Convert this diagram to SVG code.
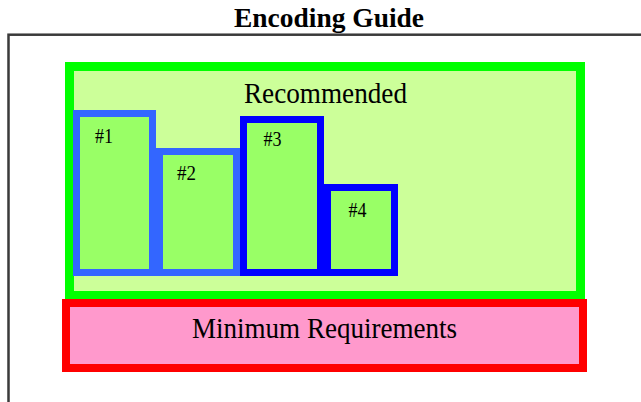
<svg xmlns="http://www.w3.org/2000/svg" width="641" height="402" viewBox="0 0 641 402">
  <style>
    text { font-family: "Liberation Serif", "Times New Roman", serif; fill: #000; }
    .big { font-size: 30px; text-anchor: middle; }
    .num { font-size: 20px; }
    .lb { fill: #99FF66; stroke: #3366FF; stroke-width: 7; }
    .db { fill: #99FF66; stroke: #0000FF; stroke-width: 7; }
  </style>
  <rect width="641" height="402" fill="#ffffff"/>
  <g id="title">
    <text x="329" y="27" font-family="Liberation Serif, serif" font-size="28" font-weight="bold" text-anchor="middle" textLength="190" lengthAdjust="spacingAndGlyphs">Encoding Guide</text>
  </g>
  <g id="frame">
    <rect x="8.5" y="34.7" width="700" height="500" fill="none" stroke="#3a3a3a" stroke-width="2.5"/>
  </g>
  <g id="recommended">
    <rect x="69.5" y="66.5" width="511" height="229" fill="#CCFF99" stroke="#00FF00" stroke-width="9"/>
    <text class="big" x="325.5" y="103" font-family="Liberation Serif, serif" textLength="163" lengthAdjust="spacingAndGlyphs">Recommended</text>
  </g>
  <g id="box1">
    <rect class="lb" x="76.5" y="113.5" width="76" height="159"/>
    <text class="num" x="95" y="142.5" font-family="Liberation Serif, serif" textLength="18" lengthAdjust="spacingAndGlyphs">#1</text>
  </g>
  <g id="box2">
    <rect class="lb" x="159.5" y="151.5" width="77" height="121"/>
    <text class="num" x="177" y="180" font-family="Liberation Serif, serif" textLength="19" lengthAdjust="spacingAndGlyphs">#2</text>
  </g>
  <g id="box3">
    <rect class="db" x="243.5" y="119.5" width="77" height="153"/>
    <text class="num" x="263.5" y="145.5" font-family="Liberation Serif, serif" textLength="18" lengthAdjust="spacingAndGlyphs">#3</text>
  </g>
  <g id="box4">
    <rect class="db" x="327.5" y="187.5" width="67" height="85"/>
    <text class="num" x="348.5" y="216.5" font-family="Liberation Serif, serif" textLength="18" lengthAdjust="spacingAndGlyphs">#4</text>
  </g>
  <g id="minimum">
    <rect x="66" y="303" width="517" height="65" fill="#FF99CC" stroke="#FF0000" stroke-width="8"/>
    <text class="big" x="324.5" y="338" font-family="Liberation Serif, serif" textLength="265" lengthAdjust="spacingAndGlyphs">Minimum Requirements</text>
  </g>
  <g id="connectors"/>
</svg>
